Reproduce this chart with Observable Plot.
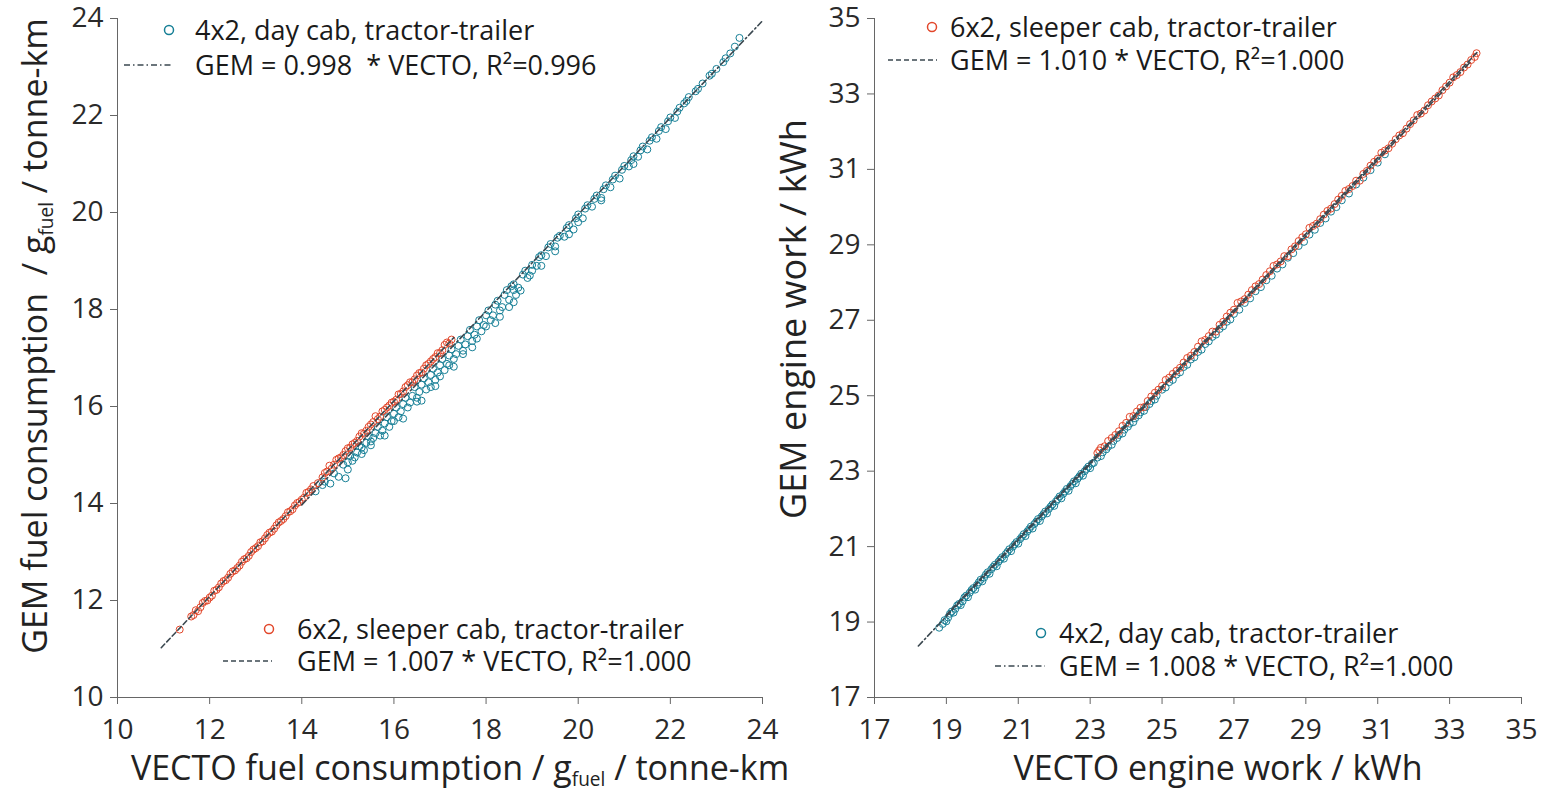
<!DOCTYPE html>
<html>
<head>
<meta charset="utf-8">
<script src="https://cdn.jsdelivr.net/npm/d3@7"></script>
<script src="https://cdn.jsdelivr.net/npm/@observablehq/plot@0.6"></script>
<style>
  html, body { margin: 0; padding: 0; background: #fff; }
  #wrap { position: relative; width: 1541px; height: 791px; overflow: hidden; }
  #left, #right, #overlay { position: absolute; top: 0; }
  #left { left: 0; }
  #right { left: 770px; }
  #overlay { left: 0; pointer-events: none; }
  text { white-space: pre; }
</style>
</head>
<body>
<div id="wrap">
  <div id="left"></div>
  <div id="right"></div>
  <svg id="overlay" width="1541" height="791"></svg>
</div>
<script>
// ---------- DATA ----------
const fuelTicks = [10, 12, 14, 16, 18, 20, 22, 24];
const workTicks = [17, 19, 21, 23, 25, 27, 29, 31, 33, 35];

// Left panel: fuel consumption (g_fuel / tonne-km)
const fuel6x2Vecto = [11.35,11.60,11.70,11.80,11.90,12.00,12.05,12.10,12.20,12.30,12.40,12.50,12.55,12.60,12.70,12.80,12.90,13.00,13.05,13.10,13.20,13.30,13.40,13.50,13.55,13.60,13.70,13.75,13.80,13.90,14.00,14.05,14.10,14.20,14.35,14.50,14.55,14.60,14.70,14.75,14.80,14.90,15.00,15.05,15.10,15.20,15.30,15.40,15.50,15.55,15.60,15.70,15.75,15.80,15.90,16.00,16.05,16.10,16.20,16.25,16.30,16.40,16.50,16.55,16.60,16.70,16.80,16.90,17.00,17.10,17.20,
  11.65,11.75,11.85,11.95,12.15,12.25,12.35,12.45,12.65,12.75,12.85,12.95,13.15,13.25,13.35,13.45,13.65,13.85,13.95,14.15,14.25,14.45,14.65,14.85,14.95,15.15,15.25,15.35,15.45,15.65,15.85,15.95,16.15,16.35,16.45,16.65,16.75,16.85,16.95,17.05,17.15,17.25];
const fuel6x2Gem   = [11.40,11.67,11.80,11.86,11.99,12.06,12.10,12.20,12.27,12.40,12.47,12.60,12.62,12.67,12.80,12.87,13.00,13.08,13.12,13.20,13.28,13.40,13.48,13.61,13.64,13.68,13.82,13.84,13.88,14.01,14.08,14.12,14.22,14.29,14.42,14.63,14.66,14.78,14.80,14.90,14.93,15.00,15.14,15.15,15.22,15.29,15.45,15.50,15.63,15.68,15.80,15.79,15.90,15.93,16.02,16.10,16.14,16.25,16.31,16.40,16.44,16.50,16.64,16.69,16.70,16.85,16.93,17.02,17.10,17.27,17.30,
  11.70,11.78,11.95,12.00,12.22,12.35,12.42,12.55,12.72,12.85,12.92,13.05,13.22,13.35,13.42,13.55,13.74,13.96,14.03,14.24,14.36,14.54,14.72,14.95,15.08,15.25,15.38,15.44,15.58,15.74,15.98,16.08,16.26,16.50,16.56,16.78,16.88,16.98,17.10,17.16,17.32,17.38];

const fuel4x2Vecto = [14.45,14.62,14.80,14.95,15.00,15.10,15.20,15.30,15.30,15.40,15.50,15.50,15.60,15.70,15.80,15.90,16.00,16.00,16.10,16.20,16.30,16.40,16.50,16.50,16.60,16.70,16.80,16.80,16.90,17.00,17.00,17.10,17.20,17.20,17.30,17.40,17.50,17.50,17.60,17.70,17.80,17.80,17.90,18.00,18.00,18.10,18.20,18.30,18.30,18.40,18.45,18.50,18.50,18.60,18.60,18.70,18.75,18.80,18.90,19.00,19.00,19.10,19.20,19.30,19.40,19.50,19.50,19.60,19.70,19.80,19.90,20.00,20.00,20.10,20.20,20.30,20.40,20.50,20.60,20.70,20.80,20.90,21.00,21.10,21.20,21.30,21.40,21.50,21.60,21.70,21.80,21.90,22.00,22.10,22.20,22.30,22.40,22.55,22.70,22.85,23.00,23.15,23.30,23.50,
  14.30,14.50,14.70,14.90,15.05,15.15,15.25,15.35,15.45,15.55,15.65,15.75,15.85,15.95,16.05,16.15,16.25,16.35,16.45,16.55,16.65,16.75,16.85,16.95,17.05,17.15,17.25,17.35,17.45,17.55,17.65,17.75,17.85,17.95,18.05,18.15,18.25,18.35,18.55,18.65,18.85,18.95,19.15,19.35,19.55,19.75,19.95,20.15,20.35,20.55,20.75,20.95,21.15,21.35,21.55,21.75,21.95,22.15,22.35,22.60,22.90,23.20,23.40,16.20,16.60,17.30,17.70,18.20,18.60,19.20,19.80,20.50,21.20,15.80,15.00,16.90];
const fuel4x2Gem   = [14.38,14.41,14.55,14.52,14.85,14.88,15.05,15.02,15.15,15.25,15.20,15.28,15.45,15.40,15.65,15.58,15.85,15.70,15.78,16.05,15.98,16.22,16.18,16.10,16.45,16.35,16.65,16.40,16.55,16.85,16.62,16.75,17.05,16.85,16.98,17.25,17.15,17.08,17.45,17.35,17.65,17.40,17.55,17.88,17.65,17.78,18.10,17.98,17.85,18.30,18.40,18.20,18.05,18.52,18.40,18.45,18.39,18.72,18.65,18.92,18.80,18.90,19.12,19.10,19.35,19.30,19.20,19.52,19.50,19.74,19.65,19.96,19.80,19.88,20.15,20.12,20.35,20.30,20.56,20.52,20.76,20.70,20.96,20.95,21.16,21.15,21.36,21.30,21.55,21.52,21.76,21.72,21.96,21.95,22.16,22.25,22.38,22.50,22.66,22.82,22.96,23.10,23.28,23.60,
  14.25,14.45,14.62,14.80,14.98,14.95,15.18,15.10,15.38,15.35,15.58,15.50,15.78,15.70,15.98,15.90,16.18,16.08,16.40,16.30,16.58,16.50,16.78,16.70,16.98,16.88,17.18,17.08,17.38,17.28,17.58,17.48,17.78,17.68,17.98,17.88,18.18,18.05,18.48,18.30,18.80,18.70,19.08,19.28,19.48,19.68,19.88,20.08,20.28,20.48,20.68,20.88,21.08,21.28,21.48,21.68,21.88,22.08,22.30,22.55,22.86,23.18,23.42,15.75,16.12,16.82,17.22,17.72,18.15,18.90,19.55,20.25,21.00,15.40,14.70,16.42];

// Right panel: engine work (kWh)
const work4x2Vecto = [18.80,18.95,19.05,19.15,19.25,19.35,19.45,19.55,19.65,19.75,19.85,19.95,20.05,20.15,20.25,20.35,20.45,20.55,20.65,20.75,20.85,20.95,21.05,21.15,21.25,21.35,21.45,21.55,21.65,21.75,21.85,21.95,22.05,22.15,22.25,22.35,22.45,22.55,22.65,22.75,22.85,22.95,23.05,23.20,23.35,23.50,23.65,23.80,23.95,24.10,24.25,24.40,24.55,24.70,24.85,25.00,25.20,25.40,25.60,25.80,26.00,26.20,26.40,26.60,26.80,27.00,27.30,27.60,27.90,28.20,28.50,28.80,29.10,29.40,29.70,30.00,30.40,30.80,31.20,
  18.90,19.00,19.10,19.20,19.30,19.40,19.50,19.60,19.70,19.80,19.90,20.00,20.10,20.20,20.30,20.40,20.50,20.60,20.70,20.80,20.90,21.00,21.10,21.20,21.30,21.40,21.50,21.60,21.70,21.80,21.90,22.00,22.10,22.20,22.30,22.40,22.50,22.60,22.70,22.80,22.90,23.00,23.10,23.30,23.45,23.60,23.75,23.90,24.05,24.20,24.35,24.50,24.65,24.80,25.10,25.30,25.50,25.70,25.90,26.10,26.30,26.50,26.70,26.90,27.15,27.45,27.75,28.05,28.35,28.65,28.95,29.25,29.55,29.85,30.20,30.60,31.00];
const work4x2Gem   = [18.85,19.05,19.12,19.28,19.35,19.48,19.55,19.70,19.78,19.90,19.98,20.12,20.18,20.32,20.40,20.52,20.60,20.72,20.80,20.93,21.00,21.12,21.20,21.33,21.40,21.53,21.60,21.73,21.80,21.93,22.00,22.12,22.20,22.33,22.40,22.53,22.60,22.73,22.80,22.93,23.00,23.12,23.20,23.36,23.50,23.65,23.80,23.96,24.10,24.26,24.40,24.56,24.70,24.86,25.00,25.16,25.36,25.56,25.76,25.96,26.16,26.37,26.56,26.77,26.96,27.17,27.46,27.77,28.06,28.37,28.66,28.97,29.27,29.58,29.88,30.18,30.60,30.98,31.40,
  18.95,19.02,19.22,19.25,19.44,19.45,19.65,19.66,19.85,19.86,20.05,20.08,20.26,20.28,20.46,20.48,20.66,20.68,20.86,20.88,21.06,21.08,21.26,21.28,21.46,21.48,21.66,21.68,21.86,21.88,22.06,22.08,22.26,22.28,22.46,22.48,22.66,22.68,22.86,22.88,23.06,23.08,23.22,23.40,23.58,23.70,23.88,24.00,24.18,24.30,24.48,24.60,24.78,24.90,25.22,25.42,25.62,25.82,26.02,26.22,26.44,26.62,26.84,27.02,27.28,27.58,27.88,28.18,28.48,28.78,29.08,29.40,29.70,30.00,30.36,30.78,31.18];

const work6x2Vecto = [23.20,23.30,23.40,23.60,23.80,24.00,24.10,24.20,24.40,24.50,24.60,24.80,25.00,25.10,25.20,25.40,25.60,25.80,26.00,26.10,26.20,26.40,26.50,26.60,26.80,27.00,27.10,27.20,27.40,27.60,27.80,28.00,28.10,28.20,28.40,28.50,28.60,28.80,29.00,29.10,29.20,29.40,29.60,29.80,30.00,30.10,30.20,30.40,30.50,30.60,30.80,31.00,31.10,31.20,31.40,31.60,31.80,32.00,32.10,32.20,32.40,32.60,32.80,33.00,33.10,33.20,33.40,33.60,33.75,
  23.25,23.50,23.70,23.90,24.30,24.70,24.90,25.30,25.50,25.70,25.90,26.30,26.70,26.90,27.30,27.50,27.70,27.90,28.30,28.70,28.90,29.30,29.50,29.70,29.90,30.30,30.70,30.90,31.30,31.50,31.70,31.90,32.30,32.50,32.70,32.90,33.30,33.50,33.70];
const work6x2Gem   = [23.48,23.62,23.66,23.88,24.06,24.28,24.44,24.46,24.68,24.70,24.86,25.08,25.26,25.42,25.48,25.66,25.88,26.06,26.30,26.44,26.48,26.70,26.70,26.88,27.10,27.28,27.46,27.50,27.68,27.90,28.08,28.30,28.44,28.48,28.70,28.70,28.88,29.10,29.28,29.45,29.50,29.68,29.90,30.08,30.30,30.43,30.48,30.70,30.70,30.88,31.10,31.28,31.44,31.50,31.68,31.90,32.08,32.30,32.44,32.48,32.70,32.88,33.10,33.30,33.44,33.50,33.70,33.90,34.08,
  23.55,23.80,23.96,24.20,24.58,24.98,25.16,25.58,25.74,26.00,26.16,26.58,26.96,27.20,27.56,27.80,27.96,28.20,28.56,28.96,29.20,29.56,29.80,29.96,30.20,30.56,30.96,31.20,31.56,31.80,31.96,32.20,32.56,32.80,32.96,33.20,33.58,33.78,33.98];

// Fits: GEM = slope * VECTO over the drawn range
const fitSlopes = { fuel4x2: 0.998, fuel6x2: 1.007, work6x2: 1.010, work4x2: 1.008 };
const fitRanges = { fuel4x2: [14.0, 23.98], fuel6x2: [10.95, 17.3], work6x2: [19.0, 33.78], work4x2: [18.22, 33.6] };

const legendNames = ["4x2, day cab, tractor-trailer", "6x2, sleeper cab, tractor-trailer"];
const legendFits = {
  fuel4x2: "GEM = 0.998  * VECTO, R\u00B2=0.996",
  fuel6x2: "GEM = 1.007 * VECTO, R\u00B2=1.000",
  work6x2: "GEM = 1.010 * VECTO, R\u00B2=1.000",
  work4x2: "GEM = 1.008 * VECTO, R\u00B2=1.000"
};

// ---------- STYLE ----------
const BLUE = "#167f96";
const ORANGE = "#e2472b";
const LINE = "#3b4850";
const AXIS = "#666";
const FONT = "'Open Sans', 'Liberation Sans', sans-serif";
const DASH = "5,3";
const DASHDOT = "6,3,1.5,3";

const zip = (xs, ys) => xs.map((x, i) => ({x, y: ys[i]}));
const fitLine = key => fitRanges[key].map(x => ({x, y: fitSlopes[key] * x}));

function panel({width, marginLeft, marginRight, domain, ticks, blue, orange, fits}) {
  return Plot.plot({
    width, height: 791,
    marginTop: 18, marginBottom: 94, marginLeft, marginRight,
    x: {domain, ticks, label: null},
    y: {domain, ticks, label: null},
    style: {fontFamily: FONT, fontSize: "28px", color: "#222", background: "transparent", overflow: "visible"},
    marks: [
      Plot.dot(blue, {x: "x", y: "y", r: 3.5, stroke: BLUE, strokeWidth: 1, fill: "none"}),
      Plot.dot(orange, {x: "x", y: "y", r: 3.5, stroke: ORANGE, strokeWidth: 1, fill: "none"}),
      ...fits.map(f => Plot.line(fitLine(f.key), {x: "x", y: "y", stroke: LINE, strokeWidth: 1.6, strokeDasharray: f.dash})),
      Plot.axisX({ticks, tickSize: 7, tickPadding: 15, stroke: AXIS, label: null, fill: "#2a2a2a"}),
      Plot.axisY({ticks, tickSize: 7, tickPadding: 7, stroke: AXIS, label: null, fill: "#2a2a2a"}),
      Plot.frame({anchor: "left", stroke: AXIS}),
      Plot.frame({anchor: "bottom", stroke: AXIS})
    ]
  });
}

document.getElementById("left").append(panel({
  width: 770, marginLeft: 117, marginRight: 8,
  domain: [10, 24], ticks: fuelTicks,
  blue: zip(fuel4x2Vecto, fuel4x2Gem),
  orange: zip(fuel6x2Vecto, fuel6x2Gem),
  fits: [{key: "fuel4x2", dash: DASHDOT}, {key: "fuel6x2", dash: DASH}]
}));

document.getElementById("right").append(panel({
  width: 771, marginLeft: 104, marginRight: 20,
  domain: [17, 35], ticks: workTicks,
  blue: zip(work4x2Vecto, work4x2Gem),
  orange: zip(work6x2Vecto, work6x2Gem),
  fits: [{key: "work4x2", dash: DASHDOT}, {key: "work6x2", dash: DASH}]
}));

// ---------- OVERLAY: legends and axis titles ----------
const ov = d3.select("#overlay").style("font-family", FONT);

function legend(cx, cy, name, color, lx0, lx1, ly, fitText, dash, tx) {
  ov.append("circle").attr("cx", cx).attr("cy", cy).attr("r", 4.5)
    .attr("fill", "none").attr("stroke", color).attr("stroke-width", 1.5);
  ov.append("text").attr("x", tx).attr("y", cy).attr("dy", "0.36em")
    .attr("font-size", 27).attr("fill", "#1a1a1a").text(name);
  ov.append("line").attr("x1", lx0).attr("x2", lx1).attr("y1", ly).attr("y2", ly)
    .attr("stroke", LINE).attr("stroke-width", 1.6).attr("stroke-dasharray", dash);
  ov.append("text").attr("x", tx).attr("y", ly).attr("dy", "0.36em")
    .attr("font-size", 27).attr("fill", "#1a1a1a").text(fitText);
}
legend(169, 30, legendNames[0], BLUE, 124, 172, 65, legendFits.fuel4x2, DASHDOT, 195);
legend(269, 629, legendNames[1], ORANGE, 223, 272, 661, legendFits.fuel6x2, DASH, 297);
legend(932, 27, legendNames[1], ORANGE, 888, 937, 60, legendFits.work6x2, DASH, 950);
legend(1041, 633, legendNames[0], BLUE, 995, 1045, 666, legendFits.work4x2, DASHDOT, 1059);

function title(x, y, rotate, size, parts) {
  const t = ov.append("text")
    .attr("transform", `translate(${x},${y})` + (rotate ? " rotate(-90)" : ""))
    .attr("text-anchor", "middle").attr("font-size", size).attr("fill", "#222");
  parts.forEach(p => {
    const s = t.append("tspan").text(p.t);
    if (p.sub) s.attr("font-size", size * 0.56).attr("dy", "0.3em");
    if (p.after) s.attr("dy", "-0.17em");
  });
}
title(460, 780, false, 34, [{t: "VECTO fuel consumption / g"}, {t: "fuel", sub: true}, {t: " / tonne-km", after: true}]);
title(1218, 780, false, 34, [{t: "VECTO engine work / kWh"}]);
title(47, 336, true, 34, [{t: "GEM fuel consumption  / g"}, {t: "fuel", sub: true}, {t: " / tonne-km", after: true}]);
title(806, 319, true, 36, [{t: "GEM engine work / kWh"}]);
</script>
</body>
</html>
